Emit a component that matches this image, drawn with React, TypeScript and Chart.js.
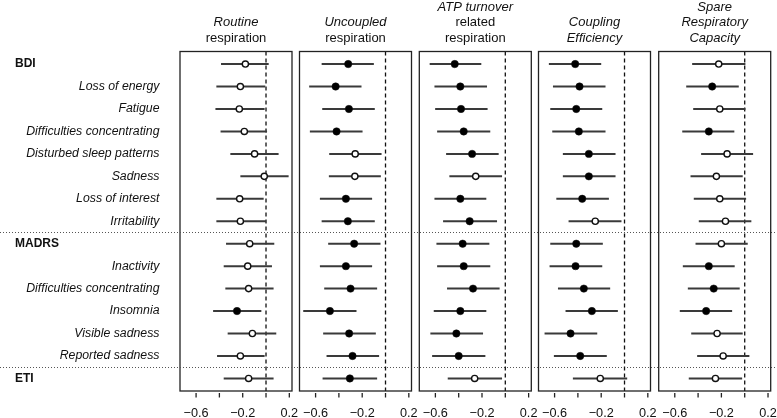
import React, { useEffect, useRef } from "react";
import { Chart, registerables } from "chart.js";
Chart.register(...registerables);

const W = 777;
const H = 418;
const FONT = "'Liberation Sans', Arial, Helvetica, sans-serif";

const rowLabels = [
  "BDI",
  "Loss of energy",
  "Fatigue",
  "Difficulties concentrating",
  "Disturbed sleep patterns",
  "Sadness",
  "Loss of interest",
  "Irritability",
  "MADRS",
  "Inactivity",
  "Difficulties concentrating",
  "Insomnia",
  "Visible sadness",
  "Reported sadness",
  "ETI",
];
const groupRows = [0, 8, 14];
const separatorPositions = [8.5, 14.5];

const tickValues = [-0.6, -0.4, -0.2, 0, 0.2];
const labeledTicks = [-0.6, -0.2, 0.2];
const xMin = -0.738;
const xMax = 0.223;
const yMin = 0.44;
const yMax = 15.56;

const panelTitles: { text: string; italic: boolean }[][] = [
  [
    { text: "Routine", italic: true },
    { text: "respiration", italic: false },
  ],
  [
    { text: "Uncoupled", italic: true },
    { text: "respiration", italic: false },
  ],
  [
    { text: "ATP turnover", italic: true },
    { text: "related", italic: false },
    { text: "respiration", italic: false },
  ],
  [
    { text: "Coupling", italic: true },
    { text: "Efficiency", italic: true },
  ],
  [
    { text: "Spare", italic: true },
    { text: "Respiratory", italic: true },
    { text: "Capacity", italic: true },
  ],
];

// Routine respiration
const routineEst = [-0.177, -0.22, -0.229, -0.186, -0.098, -0.015, -0.226, -0.22, -0.14, -0.157, -0.149, -0.249, -0.117, -0.22, -0.149];
const routineLo = [-0.386, -0.426, -0.434, -0.39, -0.306, -0.22, -0.426, -0.426, -0.343, -0.363, -0.349, -0.454, -0.329, -0.42, -0.363];
const routineHi = [0.023, -0.006, -0.012, 0.009, 0.108, 0.194, -0.02, 0.0, 0.071, 0.051, 0.065, -0.04, 0.088, -0.012, 0.065];
const routineSig = [0, 0, 0, 0, 0, 0, 0, 0, 0, 0, 0, 1, 0, 0, 0];

// Uncoupled respiration
const uncoupledEst = [-0.32, -0.428, -0.314, -0.42, -0.26, -0.263, -0.34, -0.323, -0.269, -0.34, -0.3, -0.477, -0.312, -0.283, -0.306];
const uncoupledLo = [-0.548, -0.655, -0.543, -0.649, -0.483, -0.486, -0.563, -0.548, -0.492, -0.563, -0.526, -0.706, -0.535, -0.506, -0.54];
const uncoupledHi = [-0.1, -0.206, -0.092, -0.197, -0.034, -0.04, -0.115, -0.092, -0.043, -0.115, -0.072, -0.249, -0.083, -0.055, -0.072];
const uncoupledSig = [1, 1, 1, 1, 0, 0, 1, 1, 1, 1, 1, 1, 1, 1, 1];

// ATP turnover related respiration
const atpEst = [-0.434, -0.386, -0.38, -0.357, -0.285, -0.254, -0.386, -0.306, -0.366, -0.357, -0.277, -0.386, -0.42, -0.4, -0.263];
const atpLo = [-0.649, -0.608, -0.602, -0.585, -0.508, -0.48, -0.608, -0.534, -0.591, -0.585, -0.5, -0.614, -0.643, -0.628, -0.494];
const atpHi = [-0.206, -0.157, -0.152, -0.129, -0.057, -0.028, -0.163, -0.071, -0.137, -0.129, -0.049, -0.163, -0.191, -0.171, -0.028];
const atpSig = [1, 1, 1, 1, 1, 0, 1, 1, 1, 1, 1, 1, 1, 1, 0];

// Coupling efficiency
const couplingEst = [-0.423, -0.386, -0.414, -0.392, -0.306, -0.306, -0.363, -0.251, -0.414, -0.42, -0.349, -0.28, -0.463, -0.38, -0.208];
const couplingLo = [-0.649, -0.614, -0.637, -0.62, -0.529, -0.529, -0.585, -0.48, -0.637, -0.643, -0.571, -0.506, -0.686, -0.606, -0.443];
const couplingHi = [-0.2, -0.163, -0.191, -0.163, -0.077, -0.077, -0.134, -0.026, -0.186, -0.191, -0.123, -0.057, -0.234, -0.152, 0.023];
const couplingSig = [1, 1, 1, 1, 1, 1, 1, 0, 1, 1, 1, 1, 1, 1, 0];

// Spare respiratory capacity
const spareEst = [-0.223, -0.279, -0.214, -0.308, -0.151, -0.243, -0.214, -0.165, -0.2, -0.308, -0.266, -0.331, -0.237, -0.185, -0.251];
const spareLo = [-0.451, -0.502, -0.442, -0.536, -0.374, -0.465, -0.437, -0.394, -0.422, -0.531, -0.488, -0.557, -0.459, -0.408, -0.48];
const spareHi = [0.006, -0.051, 0.006, -0.089, 0.072, -0.017, 0.012, 0.057, 0.026, -0.086, -0.043, -0.108, -0.017, 0.04, -0.022];
const spareSig = [0, 1, 0, 1, 0, 0, 0, 0, 0, 1, 1, 1, 0, 0, 0];

const panels = [
  { est: routineEst, lo: routineLo, hi: routineHi, sig: routineSig },
  { est: uncoupledEst, lo: uncoupledLo, hi: uncoupledHi, sig: uncoupledSig },
  { est: atpEst, lo: atpLo, hi: atpHi, sig: atpSig },
  { est: couplingEst, lo: couplingLo, hi: couplingHi, sig: couplingSig },
  { est: spareEst, lo: spareLo, hi: spareHi, sig: spareSig },
];

const panelLefts = [180, 299.5, 419.3, 538.5, 658.7];
const panelWidth = 112;
const boxTop = 51.5;
const axisHeight = 27;

function fmtTick(v: number): string {
  const s = Math.abs(v).toFixed(1);
  return v < -1e-9 ? "\u2212" + s : s;
}

function makeChart(canvas: HTMLCanvasElement, idx: number): Chart {
  const p = panels[idx];
  const left = panelLefts[idx];
  const plugin = {
    id: "forest" + idx,
    beforeDatasetsDraw(chart: any) {
      const ctx = chart.ctx as CanvasRenderingContext2D;
      const xs = chart.scales.x;
      const ys = chart.scales.y;
      const area = chart.chartArea;
      ctx.save();
      // zero reference line
      const x0 = xs.getPixelForValue(0);
      ctx.strokeStyle = "#111";
      ctx.lineWidth = 1.3;
      ctx.setLineDash([4, 3]);
      ctx.beginPath();
      ctx.moveTo(x0, area.top);
      ctx.lineTo(x0, area.bottom);
      ctx.stroke();
      ctx.setLineDash([]);
      // interval lines
      ctx.strokeStyle = "#3a3a3a";
      ctx.lineWidth = 2;
      for (let i = 0; i < p.est.length; i++) {
        const y = ys.getPixelForValue(i + 1);
        ctx.beginPath();
        ctx.moveTo(xs.getPixelForValue(p.lo[i]), y);
        ctx.lineTo(xs.getPixelForValue(p.hi[i]), y);
        ctx.stroke();
      }
      ctx.restore();
    },
    afterDraw(chart: any) {
      const ctx = chart.ctx as CanvasRenderingContext2D;
      const xs = chart.scales.x;
      const ys = chart.scales.y;
      const area = chart.chartArea;
      ctx.save();
      // box
      ctx.strokeStyle = "#222";
      ctx.lineWidth = 1.3;
      ctx.strokeRect(area.left, area.top, area.right - area.left, area.bottom - area.top);
      // tick marks
      ctx.lineWidth = 1.3;
      tickValues.forEach((t) => {
        const x = xs.getPixelForValue(t);
        ctx.beginPath();
        ctx.moveTo(x, area.bottom + 2);
        ctx.lineTo(x, area.bottom + 6.5);
        ctx.stroke();
      });
      // title
      const cx = (area.left + area.right) / 2;
      const lines = panelTitles[idx];
      ctx.fillStyle = "#111";
      ctx.textAlign = "center";
      ctx.textBaseline = "middle";
      const lastY = 38;
      const lh = 15.5;
      lines.forEach((ln, k) => {
        const y = lastY - (lines.length - 1 - k) * lh;
        ctx.font = (ln.italic ? "italic " : "") + "13px " + FONT;
        ctx.fillText(ln.text, cx, y);
      });
      if (idx === 0) {
        // separators
        ctx.strokeStyle = "#555";
        ctx.lineWidth = 1;
        ctx.setLineDash([1, 2]);
        separatorPositions.forEach((s) => {
          const y = Math.round(ys.getPixelForValue(s)) + 0.5;
          ctx.beginPath();
          ctx.moveTo(0, y);
          ctx.lineTo(W, y);
          ctx.stroke();
        });
        ctx.setLineDash([]);
        // row labels
        ctx.fillStyle = "#111";
        ctx.textBaseline = "middle";
        rowLabels.forEach((lab, i) => {
          const y = ys.getPixelForValue(i + 1);
          if (groupRows.includes(i)) {
            ctx.font = "bold 12px " + FONT;
            ctx.textAlign = "left";
            ctx.fillText(lab, 15, y);
          } else {
            ctx.font = "italic 12.3px " + FONT;
            ctx.textAlign = "right";
            ctx.fillText(lab, 159.5, y);
          }
        });
      }
      ctx.restore();
    },
  };

  return new Chart(canvas, {
    type: "scatter",
    data: {
      datasets: [
        {
          data: p.est.map((v, i) => ({ x: v, y: i + 1 })),
          pointRadius: (c: any) => (p.sig[c.dataIndex] ? 3.7 : 3.1),
          pointHoverRadius: (c: any) => (p.sig[c.dataIndex] ? 3.7 : 3.1),
          pointBackgroundColor: (c: any) => (p.sig[c.dataIndex] ? "#000" : "#fff"),
          pointBorderColor: "#111",
          pointBorderWidth: (c: any) => (p.sig[c.dataIndex] ? 0.5 : 1.4),
        } as any,
      ],
    },
    options: {
      responsive: false,
      animation: false,
      events: [],
      layout: {
        padding: { left: left, right: W - left - panelWidth, top: boxTop, bottom: 0 },
      },
      plugins: {
        legend: { display: false },
        tooltip: { enabled: false },
        title: { display: false },
      },
      scales: {
        x: {
          type: "linear",
          min: xMin,
          max: xMax,
          afterBuildTicks: (s: any) => {
            s.ticks = tickValues.map((v) => ({ value: v }));
          },
          afterFit: (s: any) => {
            s.height = axisHeight;
            s.paddingLeft = 0;
            s.paddingRight = 0;
          },
          border: { display: false },
          grid: { display: false, drawTicks: false, tickLength: 0 },
          ticks: {
            autoSkip: false,
            maxRotation: 0,
            minRotation: 0,
            padding: 15,
            color: "#111",
            font: { family: FONT, size: 12.7 },
            callback: (v: any) => {
              const n = Number(v);
              return labeledTicks.some((t) => Math.abs(t - n) < 1e-6) ? fmtTick(n) : "";
            },
          },
        },
        y: {
          type: "linear",
          display: false,
          min: yMin,
          max: yMax,
          reverse: true,
        },
      },
    } as any,
    plugins: [plugin],
  });
}

function Panel({ idx }: { idx: number }) {
  const ref = useRef<HTMLCanvasElement | null>(null);
  useEffect(() => {
    if (!ref.current) return;
    const chart = makeChart(ref.current, idx);
    return () => chart.destroy();
  }, [idx]);
  return (
    <canvas
      ref={ref}
      width={W}
      height={H}
      style={{ position: "absolute", left: 0, top: 0, width: W, height: H }}
    />
  );
}

export default function App() {
  return (
    <div style={{ position: "absolute", left: 0, top: 0, width: W, height: H, background: "#fff" }}>
      {panels.map((_, i) => (
        <Panel key={i} idx={i} />
      ))}
    </div>
  );
}
